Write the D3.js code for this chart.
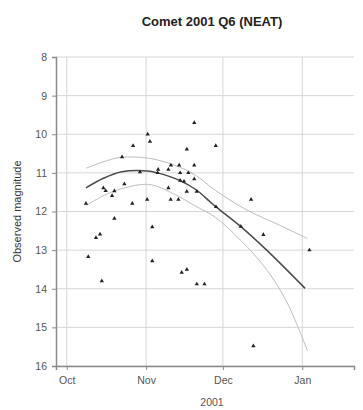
<!DOCTYPE html>
<html>
<head>
<meta charset="utf-8">
<script src="https://cdn.jsdelivr.net/npm/d3@7"></script>
<style>
  body { margin: 0; background: #fff; }
  text { font-family: "Liberation Sans", Arial, sans-serif; }
</style>
</head>
<body>
<svg id="chart" width="363" height="410"></svg>
<script>
// days after 1 Oct 2001, observed magnitude
const obsDay = [49.8, 31.6, 32.5, 25.9, 46.9, 21.6, 40.7, 43.9, 49.8, 35.7,
  39.7, 28.6, 35.5, 44.3, 47.5, 49.8, 44.3, 45.8, 22.5, 14.3,
  39.7, 15.2, 18.6, 46.9, 50.8, 17.7, 31.4, 40.6, 43.6, 7.5,
  25.6, 18.6, 33.4, 13.0, 11.4, 8.4, 33.4, 46.9, 44.9, 13.7,
  50.8, 53.8, 58.2, 72.0, 58.3, 68.0, 76.8, 94.8, 72.9];
const obsMag = [9.70, 10.0, 10.19, 10.30, 10.39, 10.59, 10.80, 10.80, 10.80, 10.91,
  10.91, 10.98, 11.0, 11.0, 11.0, 11.16, 11.2, 11.22, 11.29, 11.39,
  11.39, 11.46, 11.47, 11.48, 11.48, 11.59, 11.69, 11.69, 11.69, 11.79,
  11.79, 12.18, 12.40, 12.59, 12.68, 13.17, 13.28, 13.5, 13.58, 13.8,
  13.88, 13.88, 10.30, 11.69, 11.88, 12.39, 12.60, 13.0, 15.48];

// fitted light curve and its confidence band
const fitDay = [7.5, 14.3, 21.5, 31.5, 35.4, 44.3, 50.8, 56, 58.3, 68, 78.1, 93.1];
const fitMag = [11.39, 11.14, 10.97, 10.95, 11.0, 11.2, 11.45, 11.75, 11.88, 12.39, 13.0, 13.99];
const upperDay = [7.5, 14, 21, 32, 42, 50, 58, 70, 83, 94];
const upperMag = [10.88, 10.72, 10.6, 10.62, 10.8, 11.05, 11.45, 11.95, 12.35, 12.7];
const lowerDay = [7.5, 14, 21, 32, 42, 50, 58, 68, 78, 86, 94];
const lowerMag = [11.85, 11.6, 11.42, 11.3, 11.55, 11.85, 12.15, 12.75, 13.5, 14.35, 15.6];

const magTicks = [8, 9, 10, 11, 12, 13, 14, 15, 16];
const monthTicks = ["2001-10-01", "2001-11-01", "2001-12-01", "2002-01-01"];
const monthLabels = ["Oct", "Nov", "Dec", "Jan"];

const svg = d3.select("#chart");
const plotL = 56, plotR = 354, plotT = 57, plotB = 366;

const day0 = new Date(2001, 9, 1);
const toDate = d => new Date(day0.getTime() + d * 864e5);
const parse = d3.timeParse("%Y-%m-%d");

const x = d3.scaleTime()
  .domain([toDate(-4.2), toDate(112.2)])
  .range([plotL, plotR]);
const y = d3.scaleLinear().domain([8, 16]).range([plotT, plotB]);

// grid
svg.append("g")
  .selectAll("line.hgrid")
  .data(magTicks)
  .enter().append("line")
  .attr("x1", plotL).attr("x2", plotR)
  .attr("y1", d => y(d)).attr("y2", d => y(d))
  .attr("stroke", "#d6d6d6").attr("stroke-width", 1);

svg.append("g")
  .selectAll("line.vgrid")
  .data(monthTicks.map(parse))
  .enter().append("line")
  .attr("x1", d => x(d)).attr("x2", d => x(d))
  .attr("y1", plotT).attr("y2", plotB)
  .attr("stroke", "#d6d6d6").attr("stroke-width", 1);

// axes
const yAxis = svg.append("g")
  .attr("transform", `translate(${plotL},0)`)
  .call(d3.axisLeft(y).tickValues(magTicks).tickSize(4).tickPadding(5));
const xAxis = svg.append("g")
  .attr("transform", `translate(0,${plotB})`)
  .call(d3.axisBottom(x).tickValues(monthTicks.map(parse)).tickSize(4).tickPadding(7)
    .tickFormat((d, i) => monthLabels[i]));

[yAxis, xAxis].forEach(g => {
  g.select(".domain").attr("stroke", "#8a8a8a").attr("stroke-width", 1.5);
  g.selectAll(".tick line").attr("stroke", "#8a8a8a");
  g.selectAll(".tick text").attr("fill", "#555").style("font-size", "10.5px");
});

// curves
const line = (days, mags) => d3.line()
  .x((d, i) => x(toDate(days[i])))
  .y((d, i) => y(mags[i]))
  .curve(d3.curveCatmullRom)(days);

svg.append("path").attr("d", line(upperDay, upperMag))
  .attr("fill", "none").attr("stroke", "#bdbdbd").attr("stroke-width", 1);
svg.append("path").attr("d", line(lowerDay, lowerMag))
  .attr("fill", "none").attr("stroke", "#bdbdbd").attr("stroke-width", 1);
svg.append("path").attr("d", line(fitDay, fitMag))
  .attr("fill", "none").attr("stroke", "#4a4a4a").attr("stroke-width", 1.5);

// observations
svg.append("g")
  .selectAll("path.obs")
  .data(obsDay)
  .enter().append("path")
  .attr("transform", (d, i) => `translate(${x(toDate(d))},${y(obsMag[i])})`)
  .attr("d", d3.symbol().type(d3.symbolTriangle).size(8))
  .attr("fill", "#222");

// labels
svg.append("text")
  .attr("x", 212).attr("y", 26)
  .attr("text-anchor", "middle")
  .attr("font-weight", "bold")
  .style("font-size", "13px")
  .attr("fill", "#222")
  .text("Comet 2001 Q6 (NEAT)");

svg.append("text")
  .attr("transform", `translate(21,${(plotT + plotB) / 2}) rotate(-90)`)
  .attr("text-anchor", "middle")
  .style("font-size", "11px")
  .attr("fill", "#333")
  .text("Observed magnitude");

svg.append("text")
  .attr("x", 212).attr("y", 406)
  .attr("text-anchor", "middle")
  .style("font-size", "10.5px")
  .attr("fill", "#555")
  .text("2001");
</script>
</body>
</html>
